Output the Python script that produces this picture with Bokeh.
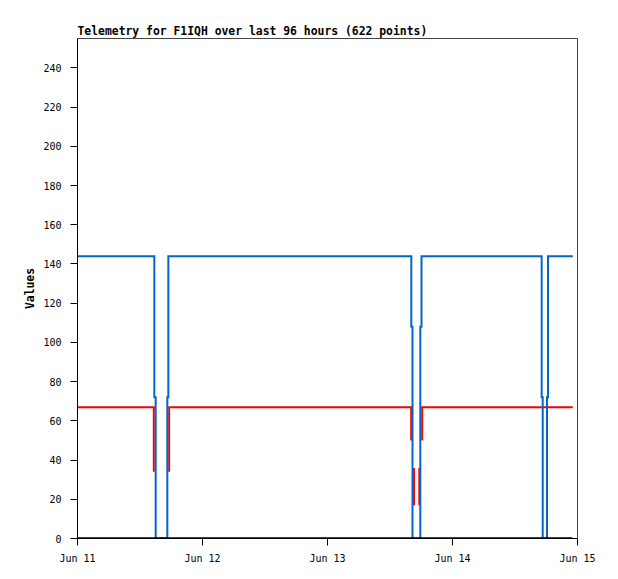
from datetime import datetime, timedelta
from bokeh.plotting import figure
from bokeh.models import FixedTicker, DatetimeTickFormatter, Range1d
from bokeh.embed import file_html
from bokeh.resources import INLINE

TITLE = "Telemetry for F1IQH over last 96 hours (622 points)"
Y_LABEL = "Values"
START = datetime(2024, 6, 11)
DAY_TICKS = [START + timedelta(days=d) for d in range(5)]
Y_TICKS = list(range(0, 241, 20))

nan = float("nan")

# hours since Jun 11 00:00
blue_hours = [0.1, 14.75, 14.75, 15.01, 15.01, 17.25, 17.25, 17.44, 17.44,
              64.09, 64.09, 64.32, 64.32, 65.82, 65.82, 66.05, 66.05,
              89.12, 89.12, 89.32, 89.32, 90.14, 90.14, 90.34, 90.34, 95.1]
blue_vals = [144, 144, 72, 72, 0, 0, 72, 72, 144,
             144, 108, 108, 0, 0, 108, 108, 144,
             144, 72, 72, 0, 0, 72, 72, 144, 144]

red_hours = [0.1, 14.65, 14.65, 14.65, 17.6, 17.6,
             64.07, 64.07, 64.07, 64.61, 64.61, 64.61,
             65.63, 65.63, 65.63, 66.18, 66.18, 95.1]
red_vals = [67, 67, 34, nan, 34, 67,
            67, 50, nan, 36, 17, nan,
            17, 36, nan, 50, 67, 67]

black_hours = [0.1, 95.0]
black_vals = [0, 0]


def to_dt(hours):
    return [START + timedelta(hours=h) for h in hours]


p = figure(frame_width=500, frame_height=500,
           min_border_left=77, min_border_right=41,
           min_border_top=38, min_border_bottom=41,
           x_axis_type="datetime", output_backend="svg",
           toolbar_location=None, tools="")
p.x_range = Range1d(DAY_TICKS[0], DAY_TICKS[-1])
p.y_range = Range1d(0, 255)

p.line(to_dt(red_hours), red_vals, line_color="#ff0000", line_width=2,
       line_join="miter", line_cap="butt")
p.line(to_dt(blue_hours), blue_vals, line_color="#0066cc", line_width=2,
       line_join="miter", line_cap="butt")
p.line(to_dt(black_hours), black_vals, line_color="#000000", line_width=2.5,
       line_cap="butt")

p.grid.visible = False
p.outline_line_color = "#444444"
p.outline_line_width = 1

p.title.text = TITLE
p.title.align = "left"
p.title.text_font = "DejaVu Sans Mono"
p.title.text_font_style = "bold"
p.title.text_font_size = "11.4px"
p.title.text_color = "#000000"
p.title.standoff = 2
p.title.offset = 0

fmt = "%b %d"
p.xaxis.ticker = FixedTicker(ticks=[d.timestamp() * 1000 for d in DAY_TICKS])
p.xaxis.formatter = DatetimeTickFormatter(
    milliseconds=fmt, seconds=fmt, minsec=fmt, minutes=fmt, hourmin=fmt,
    hours=fmt, days=fmt, months=fmt, years=fmt)
p.yaxis.ticker = FixedTicker(ticks=Y_TICKS)
p.yaxis.axis_label = Y_LABEL
p.yaxis.axis_label_text_font = "DejaVu Sans Mono"
p.yaxis.axis_label_text_font_style = "bold"
p.yaxis.axis_label_text_font_size = "11.4px"
p.yaxis.axis_label_text_color = "#000000"
p.yaxis.axis_label_standoff = 3

for ax in (p.xaxis, p.yaxis):
    ax.major_tick_out = 7
    ax.major_tick_in = 0
    ax.minor_tick_out = 0
    ax.minor_tick_in = 0
    ax.major_tick_line_color = "#000000"
    ax.axis_line_color = "#000000"
    ax.major_label_text_font = "DejaVu Sans Mono"
    ax.major_label_text_font_size = "10px"
    ax.major_label_text_color = "#000000"
p.xaxis.major_label_standoff = 7
p.yaxis.major_label_standoff = 9

open("out.html", "w").write(file_html(p, INLINE))
